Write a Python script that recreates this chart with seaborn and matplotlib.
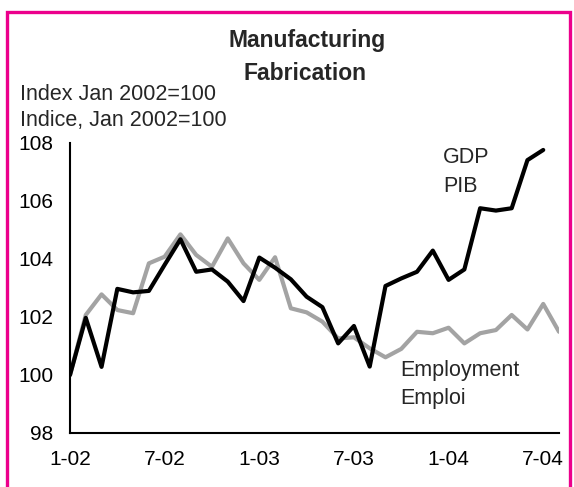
import matplotlib
matplotlib.use("Agg")
import matplotlib.pyplot as plt
from matplotlib.patches import Rectangle
import seaborn as sns
import pandas as pd

# ---- data (index, Jan 2002 = 100), monthly ----
gdp_values = [100.0, 101.97, 100.28, 102.97, 102.85, 102.9, 103.8, 104.68, 103.56, 103.64,
              103.22, 102.55, 104.05, 103.7, 103.3, 102.7, 102.34, 101.09, 101.69, 100.29,
              103.07, 103.33, 103.56, 104.29, 103.28, 103.64, 105.75, 105.67, 105.75, 107.41,
              107.76]
emp_values = [100.0, 102.07, 102.78, 102.24, 102.13, 103.85, 104.08, 104.85, 104.14, 103.73,
              104.71, 103.85, 103.28, 104.06, 102.3, 102.16, 101.84, 101.26, 101.30, 100.92,
              100.61, 100.9, 101.49, 101.44, 101.63, 101.09, 101.44, 101.55, 102.07, 101.57,
              102.45, 101.49]
tick_labels = ["1-02", "7-02", "1-03", "7-03", "1-04", "7-04"]
title_lines = ["Manufacturing", "Fabrication"]
unit_lines = ["Index Jan 2002=100", "Indice, Jan 2002=100"]
gdp_label = ["GDP", "PIB"]
emp_label = ["Employment", "Emploi"]

gdp_df = pd.DataFrame({"month": range(len(gdp_values)), "value": gdp_values})
emp_df = pd.DataFrame({"month": range(len(emp_values)), "value": emp_values})

sns.set_style("white")
plt.rcParams["font.family"] = ["Liberation Sans", "DejaVu Sans"]

W, H = 574, 487
fig = plt.figure(figsize=(W / 100, H / 100), dpi=100)
ax = fig.add_axes([70 / W, 1 - 433 / H, (559 - 70) / W, (433 - 143) / H])

sns.lineplot(data=emp_df, x="month", y="value", ax=ax, color="#a3a3a3", linewidth=3.0)
sns.lineplot(data=gdp_df, x="month", y="value", ax=ax, color="black", linewidth=3.0)

ax.set_xlim(0, 31)
ax.set_ylim(98, 108)
ax.set_xlabel("")
ax.set_ylabel("")
ax.set_yticks([98, 100, 102, 104, 106, 108])
ax.set_xticks([0, 6, 12, 18, 24, 30])
ax.set_xticklabels(tick_labels)
ax.set_xticks([3, 9, 15, 21, 27], minor=True)
for s in ["top", "right"]:
    ax.spines[s].set_visible(False)
for s in ["left", "bottom"]:
    ax.spines[s].set_color("black")
    ax.spines[s].set_linewidth(1.5)
ax.tick_params(axis="both", which="both", direction="in", length=5, width=1.2,
               colors="black", labelsize=15)
ax.tick_params(axis="y", pad=12)
ax.tick_params(axis="x", which="both", pad=12)
ax.grid(False)

# border
fig.patches.append(Rectangle((6.5 / W, -0.05), (569.5 - 6.5) / W, 1.05 - 12 / H,
                             transform=fig.transFigure, fill=False,
                             edgecolor="#ec008c", linewidth=2.4, zorder=10))

def ftext(x, y, s, **kw):
    fig.text(x / W, 1 - y / H, s, va="baseline", **kw)

ftext(307, 47, title_lines[0], ha="center", fontsize=16.5, fontweight="bold")
ftext(305, 80, title_lines[1], ha="center", fontsize=16.5, fontweight="bold")
ftext(20, 100, unit_lines[0], ha="left", fontsize=15.5)
ftext(20, 126, unit_lines[1], ha="left", fontsize=15.5)
ftext(443, 163, gdp_label[0], ha="left", fontsize=15.5)
ftext(443, 191.5, gdp_label[1], ha="left", fontsize=15.5)
ftext(400, 376, emp_label[0], ha="left", fontsize=15.5)
ftext(400, 404, emp_label[1], ha="left", fontsize=15.5)

fig.savefig("out.png", dpi=100, facecolor="white")
